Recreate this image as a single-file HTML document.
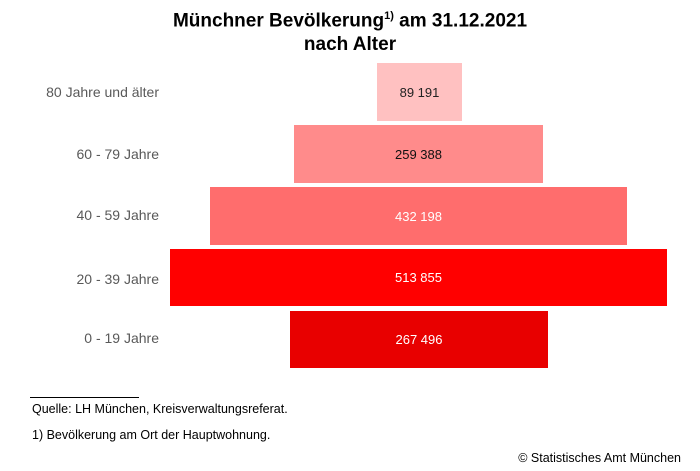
<!DOCTYPE html>
<html><head><meta charset="utf-8"><style>
body{margin:0;width:700px;height:471px;background:#fff;font-family:"Liberation Sans",sans-serif;position:relative;overflow:hidden}
.t{position:absolute;left:0;width:700px;text-align:center;font-weight:bold;font-size:19px;color:#000}
.b{position:absolute;display:flex;align-items:center;justify-content:center;font-size:13px}
.l{position:absolute;right:541px;font-size:14px;color:#595959;white-space:nowrap}
.s{position:absolute;font-size:12.5px;color:#000}
</style></head><body>
<div class="t" style="top:10px">Münchner Bevölkerung<sup style="font-size:11px">1)</sup> am 31.12.2021</div>
<div class="t" style="top:34px">nach Alter</div>
<div class="l" style="top:84px">80 Jahre und älter</div>
<div class="l" style="top:146px">60 - 79 Jahre</div>
<div class="l" style="top:207px">40 - 59 Jahre</div>
<div class="l" style="top:271px">20 - 39 Jahre</div>
<div class="l" style="top:330px">0 - 19 Jahre</div>
<div class="b" style="left:377px;top:63px;width:85px;height:58px;background:#ffc1c1;color:#222">89 191</div>
<div class="b" style="left:294px;top:125px;width:249px;height:58px;background:#ff8b8b;color:#111">259 388</div>
<div class="b" style="left:210px;top:187px;width:417px;height:58px;background:#ff6d6d;color:#fff">432 198</div>
<div class="b" style="left:170px;top:249px;width:497px;height:57px;background:#ff0000;color:#fff">513 855</div>
<div class="b" style="left:290px;top:311px;width:258px;height:57px;background:#e80000;color:#fff">267 496</div>
<div style="position:absolute;left:30px;top:397px;width:109px;height:1px;background:#000"></div>
<div class="s" style="left:32px;top:402px">Quelle: LH München, Kreisverwaltungsreferat.</div>
<div class="s" style="left:32px;top:428px">1) Bevölkerung am Ort der Hauptwohnung.</div>
<div class="s" style="right:19px;top:451px">© Statistisches Amt München</div>
</body></html>
